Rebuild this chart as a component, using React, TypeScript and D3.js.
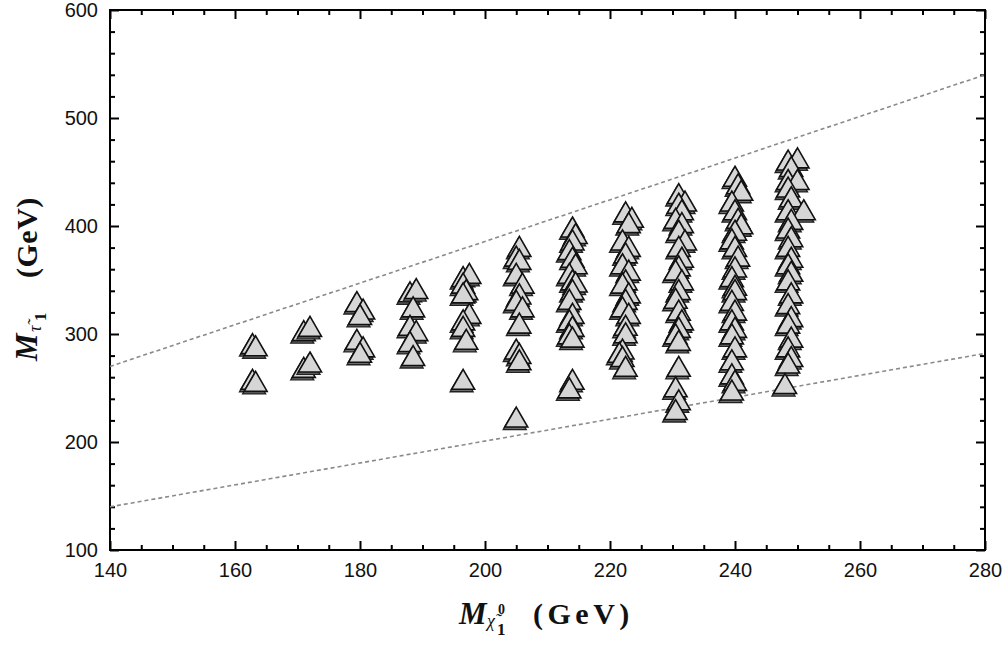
import React, { useEffect, useRef } from "react";
import * as d3 from "d3";

// neutralino mass (GeV), one entry per point
const massChi = [
  162.8, 163.3, 162.8, 163.3,
  171, 172, 171, 172,
  179.5, 180.5, 180, 179.5, 180.5, 180,
  188, 189, 188.5, 188, 189, 188, 188.5,
  196.5, 197.5, 196.5, 197, 196.5, 197.5, 196.5, 196.5, 197, 196.5,
  205.5, 205, 205.5, 205, 206, 205.5, 205, 206, 205.5, 205, 205.5, 205.5, 205,
  214, 214.5, 214, 213.5, 214, 214.5, 213.5, 214, 214.5, 214, 213.5, 214, 213.5, 214, 213.5, 214, 214, 213.5,
  222.5, 223.5, 223, 222, 223, 222.5, 222, 223, 222.5, 222, 223, 222.5, 222, 223, 222.5, 222.5, 222, 221.5, 222, 222.5,
  231, 232, 231, 231.5, 230.5, 231.5, 231, 232, 231, 231.5, 231, 230.5, 231.5, 231, 230.5, 231, 231.5, 231, 230.5, 231, 231, 230.5, 231, 230.5,
  240, 240.5, 241, 239.5, 240, 240.5, 241, 240, 239.5, 240, 240.5, 240, 239.5, 240, 240, 239.5, 240, 239.5, 240, 239.5, 240, 239.5, 239.5, 240, 239.5,
  248.5, 250, 249, 248.5, 250, 248.5, 249, 248.5, 251, 249, 248.5, 249, 248.5, 249, 248.5, 249, 248.5, 249, 248.5, 249, 248.5, 249, 248.5, 249, 248.5, 248,
];

// lightest stau mass (GeV)
const massStau = [
  288, 286, 255, 253,
  300, 304, 266, 271,
  327, 320, 315, 292, 285, 280,
  336, 339, 322, 305, 300, 290, 277,
  350, 353, 344, 338, 335, 316, 310, 304, 292, 255,
  378, 369, 366, 353, 344, 334, 328, 322, 307, 283, 279, 273, 220,
  396, 390, 384, 375, 368, 362, 353, 347, 345, 338, 329, 316, 310, 304, 297, 294, 255, 247,
  410, 405, 400, 384, 378, 372, 362, 356, 347, 344, 335, 329, 322, 316, 305, 298, 283, 280, 276, 267,
  427, 420, 418, 412, 404, 400, 393, 384, 378, 368, 360, 356, 347, 338, 330, 319, 310, 303, 297, 291, 267, 248, 236, 227,
  443, 436, 430, 420, 412, 404, 399, 393, 385, 378, 369, 359, 350, 342, 338, 328, 319, 310, 303, 297, 285, 273, 260, 254, 245,
  458, 460, 452, 440, 440, 433, 424, 412, 412, 403, 395, 387, 378, 368, 362, 355, 347, 335, 325, 313, 307, 294, 285, 276, 270, 251,
];

// bounding dashed lines
const upperLine = [[140, 270], [280, 540]];
const lowerLine = [[140, 140], [280, 282]];

const xTicks = [140, 160, 180, 200, 220, 240, 260, 280];
const yTicks = [100, 200, 300, 400, 500, 600];

export default function App() {
  const ref = useRef<SVGSVGElement>(null);

  useEffect(() => {
    const svg = d3.select(ref.current).select<SVGGElement>("g.chart");
    svg.selectAll("*").remove();

    const left = 110, right = 985, top = 10, bottom = 550;
    const x = d3.scaleLinear().domain([140, 280]).range([left, right]);
    const y = d3.scaleLinear().domain([100, 600]).range([bottom, top]);

    const xMinor = d3.range(140, 281, 5).filter(v => !xTicks.includes(v));
    const yMinor = d3.range(100, 601, 20).filter(v => !yTicks.includes(v));

    const tickFont = "'Liberation Sans', Arial, sans-serif";

    const addAxis = (axis: any, transform: string, labels: boolean) => {
      const g = svg.append("g").attr("transform", transform).call(axis);
      g.select(".domain").remove();
      g.selectAll("line").attr("stroke", "#000").attr("stroke-width", 2);
      if (labels) {
        g.selectAll("text").attr("font-family", tickFont).attr("font-size", 20).attr("fill", "#111");
      } else {
        g.selectAll("text").remove();
      }
    };

    // bottom
    addAxis(d3.axisBottom(x).tickValues(xTicks).tickSizeInner(-9).tickSizeOuter(0).tickPadding(13), `translate(0,${bottom})`, true);
    addAxis(d3.axisBottom(x).tickValues(xMinor).tickSizeInner(-5).tickSizeOuter(0), `translate(0,${bottom})`, false);
    // top
    addAxis(d3.axisTop(x).tickValues(xTicks).tickSizeInner(-9).tickSizeOuter(0), `translate(0,${top})`, false);
    addAxis(d3.axisTop(x).tickValues(xMinor).tickSizeInner(-5).tickSizeOuter(0), `translate(0,${top})`, false);
    // left
    addAxis(d3.axisLeft(y).tickValues(yTicks).tickSizeInner(-9).tickSizeOuter(0).tickPadding(12), `translate(${left},0)`, true);
    addAxis(d3.axisLeft(y).tickValues(yMinor).tickSizeInner(-5).tickSizeOuter(0), `translate(${left},0)`, false);
    // right
    addAxis(d3.axisRight(y).tickValues(yTicks).tickSizeInner(-9).tickSizeOuter(0), `translate(${right},0)`, false);
    addAxis(d3.axisRight(y).tickValues(yMinor).tickSizeInner(-5).tickSizeOuter(0), `translate(${right},0)`, false);

    // frame
    svg.append("rect")
      .attr("x", left).attr("y", top)
      .attr("width", right - left).attr("height", bottom - top)
      .attr("fill", "none").attr("stroke", "#000").attr("stroke-width", 2);

    // dashed lines
    const line = d3.line<number[]>().x(d => x(d[0])).y(d => y(d[1]));
    [upperLine, lowerLine].forEach(l => {
      svg.append("path")
        .attr("d", line(l))
        .attr("fill", "none")
        .attr("stroke", "#8a8a8a")
        .attr("stroke-width", 1.6)
        .attr("stroke-dasharray", "4,3");
    });

    // triangles
    const tri = d3.symbol().type(d3.symbolTriangle).size(230)();
    const pts = svg.append("g");
    massChi.forEach((m, i) => {
      const px = x(m), py = y(massStau[i]);
      pts.append("path")
        .attr("d", tri)
        .attr("transform", `translate(${px - 1.5},${py + 2.5})`)
        .attr("fill", "#6e6e6e")
        .attr("stroke", "#222")
        .attr("stroke-width", 1.3);
      pts.append("path")
        .attr("d", tri)
        .attr("transform", `translate(${px},${py})`)
        .attr("fill", "#d6d6d6")
        .attr("stroke", "#111")
        .attr("stroke-width", 1.6);
    });
  }, []);

  const serif = "'Liberation Serif', 'Times New Roman', serif";

  return (
    <svg
      ref={ref}
      width={1002}
      height={650}
      style={{ position: "absolute", left: 0, top: 0, background: "#fff" }}
    >
      <g className="chart" />
      {/* x axis title */}
      <g fontFamily={serif} fontWeight="bold" fill="#111">
        <text x={459} y={624} fontSize={31} fontStyle="italic">M</text>
        <text x={487} y={627} fontSize={18} fontStyle="italic" fontWeight="normal">{"\u03c7\u0303"}</text>
        <text x={498} y={614} fontSize={14}>0</text>
        <text x={497} y={635} fontSize={17}>1</text>
        <text x={533} y={624} fontSize={30} letterSpacing={4.5}>(GeV)</text>
      </g>
      {/* y axis title */}
      <g fontFamily={serif} fontWeight="bold" fill="#111" transform="translate(37,361) rotate(-90)">
        <text x={0} y={0} fontSize={31} fontStyle="italic">M</text>
        <text x={29} y={4} fontSize={18} fontStyle="italic" fontWeight="normal">{"\u03c4\u0303"}</text>
        <text x={40} y={9} fontSize={17}>1</text>
        <text x={83} y={0} fontSize={30} letterSpacing={0.5}>(GeV)</text>
      </g>
    </svg>
  );
}
